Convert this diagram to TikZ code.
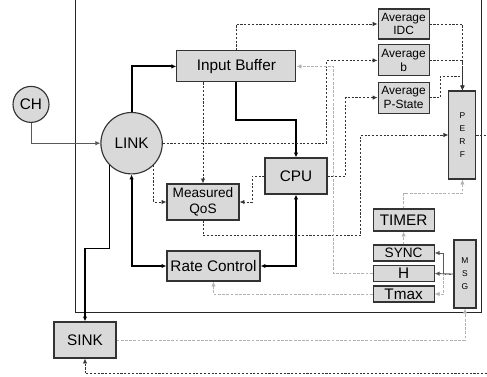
\documentclass[tikz,border=0pt]{standalone}
\usepackage{fontspec}
\setmainfont{Liberation Sans}
\usetikzlibrary{arrows.meta}
\tikzset{mb/.append style={draw=black!80, fill=black!15, line width=0.8pt, inner sep=0pt, align=center, font=\fontsize{10.9}{12}\selectfont}}
\tikzset{cc/.append style={draw=black!80, fill=black!15, line width=0.8pt, circle, inner sep=0pt, font=\fontsize{10.9}{12}\selectfont}}
\tikzset{sm/.append style={font=\fontsize{9.7}{10.9}\selectfont}}
\tikzset{av/.append style={font=\fontsize{8.5}{9.6}\selectfont}}
\tikzset{vt/.append style={font=\fontsize{6}{9.2}\selectfont}}
\tikzset{tk/.append style={line width=1.3pt, black}}
\tikzset{dd/.append style={line width=0.6pt, black!80, dash pattern=on 1.5pt off 1.2pt}}
\tikzset{ld/.append style={line width=0.6pt, black!30, dash pattern=on 2pt off 1pt}}
\tikzset{gs/.append style={line width=0.6pt, black!65}}

\begin{document}
\begin{tikzpicture}[>={Latex[length=3.5pt,width=3.2pt]}]
                \clip (0,0) rectangle (12.175,9.4);
                \draw[line width=0.6pt, black!85] (1.875,1.6) rectangle (12.025,9.9);
                % \SetUpVertex
                \node[cc, minimum size=0.9cm] (ch) at (0.775,6.79) {CH};
                \node[cc, minimum size=1.535cm] (link) at (3.29,5.82) {LINK};
                \node[mb, minimum width=2.975cm, minimum height=0.775cm] (ibuf) at (5.91,7.74) {Input Buffer};
                \node[mb, minimum width=1.55cm, minimum height=0.9cm] (cpu) at (7.4,5.0) {CPU};
                \node[mb, sm, minimum width=1.8cm, minimum height=0.9cm] (qos) at (5.075,4.35) {Measured\\QoS};
                \node[mb, minimum width=2.325cm, minimum height=0.75cm] (rate) at (5.3375,2.75) {Rate Control};
                \node[mb, minimum width=1.55cm, minimum height=0.9cm] (sink) at (2.125,0.9) {SINK};
                \node[mb, av, minimum width=1.275cm, minimum height=0.75cm] (idc) at (10.09,8.8) {Average\\IDC};
                \node[mb, av, minimum width=1.275cm, minimum height=0.775cm] (avgb) at (10.09,7.89) {Average\\b};
                \node[mb, av, minimum width=1.275cm, minimum height=0.775cm] (avgp) at (10.09,6.96) {Average\\P-State};
                \node[mb, vt, minimum width=0.675cm, minimum height=2.2cm] (perf) at (11.56,6.025) {P\\E\\R\\F};
                \node[mb, minimum width=1.525cm, minimum height=0.55cm] (timer) at (10.09,3.9) {TIMER};
                \node[mb, sm, minimum width=1.525cm, minimum height=0.4cm] (sync) at (10.09,3.075) {SYNC};
                \node[mb, minimum width=1.525cm, minimum height=0.4cm] (h) at (10.09,2.5625) {H};
                \node[mb, minimum width=1.525cm, minimum height=0.4cm] (tmax) at (10.09,2.05) {Tmax};
                \node[mb, vt, minimum width=0.55cm, minimum height=1.7cm] (msg) at (11.625,2.55) {M\\S\\G};
                % thick links
                \draw[tk,->] (link) |- (ibuf);
                \draw[tk,->] (ibuf.south) -- ++(0,-0.93) -| (cpu);
                \draw[tk,<->] (link) |- (rate);
                \draw[tk,<->] (cpu) |- (rate);
                \draw[tk,->] (link.225) -- ++(0,-2.08) -| (sink);
                % dotted
                \draw[gs,->] (ch) |- (link);
                \draw[dd,->] (ibuf.north) |- (idc);
                \draw[dd,->] (link.east) -- ++(4.09,0) |- (avgb);
                \draw[dd,->] (cpu.east) -- ++(0.45,0) |- (avgp);
                \draw[dd,->] (idc) -| (perf);
                \draw[dd,->] (avgb) -| (perf);
                \draw[dd,->] (avgp.east) -- ++(0.26,0) -- ++(0,0.52) -| (perf);
                \draw[dd,->] (qos |- ibuf.south) -- (qos);
                \draw[dd,->] (link.315) |- (qos);
                \draw[dd,->] (cpu.west) -- ++(-0.31,0) |- (qos);
                \draw[dd,->] (qos.south) -- ++(0,-0.375) -- ++(3.94,0) |- (perf);
                \draw[dd,->] (perf.east) -- ++(0.8,0) |- ([yshift=-0.38cm]sink.south) -- (sink.south);
                % light
                \draw[ld,->] (sink) -| (msg);
                \draw[gs,->] (msg.west) -- ++(-0.24,0) |- (sync);
                \draw[gs,->] (msg.west) -- (h.east);
                \draw[ld,->] (msg.west) -- ++(-0.24,0) |- (tmax);
                \draw[ld,->] (sync) -- (timer);
                \draw[ld,->] (timer.north) -- ++(0,0.375) -| (perf);
                \draw[ld,->] (h.west) -- ++(-0.97,0) |- (ibuf);
                \draw[ld,->] (tmax) -| (rate);
            \end{tikzpicture}
\end{document}
